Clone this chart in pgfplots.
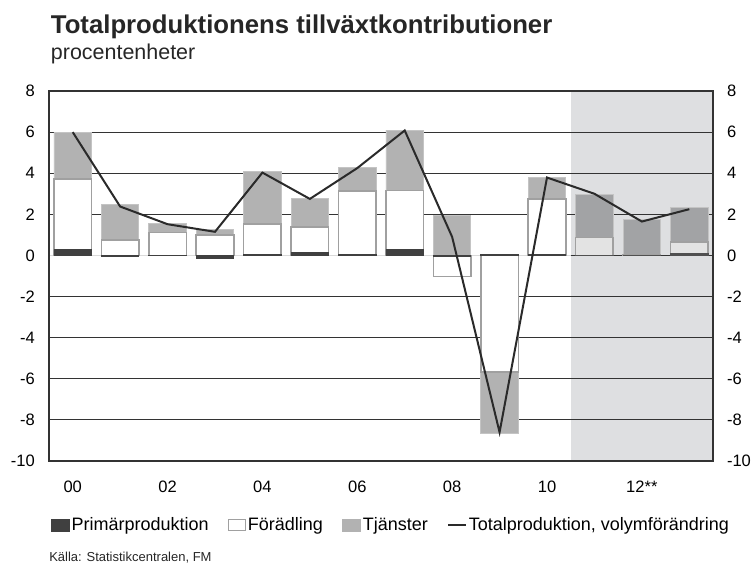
\documentclass[border=0pt]{standalone}
\usepackage{pgfplots}
\pgfplotsset{compat=1.18}
\usepackage{pgfplotstable}
\usepackage{fontspec}
\setmainfont{Liberation Sans}
\definecolor{shade}{HTML}{DEDFE1}
\definecolor{tjan}{HTML}{B2B2B2}
\definecolor{tjanF}{HTML}{A2A3A5}
\definecolor{tjanE}{HTML}{C4C4C4}
\definecolor{forb}{HTML}{A0A0A0}
\definecolor{forF}{HTML}{E3E3E3}
\definecolor{prim}{HTML}{404040}
\definecolor{primF}{HTML}{505050}
\definecolor{linec}{HTML}{2A2A2A}
\definecolor{gridc}{HTML}{333333}
\definecolor{zeroc}{HTML}{DADADA}

% cumulative bar ends (same-sign stacking): Tc = top of Tjanster, Fc = top of Foradling, P = Primarproduktion
\pgfplotstableread{
x Tc Fc P
0 6.00 3.71 0.28
1 2.50 0.76 -0.05
2 1.54 1.12 0.02
3 1.28 1.00 -0.12
4 4.08 1.54 0.03
5 2.77 1.38 0.16
6 4.29 3.14 0.03
7 6.10 3.16 0.28
8 1.93 -1.03 -0.05
9 -8.68 -5.68 0.05
10 3.81 2.76 0.03
}\hist
\pgfplotstableread{
x Tc Fc P
11 2.95 0.88 0.02
12 1.73 0.05 0.02
13 2.33 0.66 0.08
}\prog
\pgfplotstableread{
x tot
0 6.00
1 2.38
2 1.52
3 1.15
4 4.03
5 2.75
6 4.25
7 6.08
8 0.90
9 -8.60
10 3.79
11 3.00
12 1.65
13 2.25
}\total

\pgfplotsset{
  mybar/.style={ybar, bar width=0.79, bar shift=0pt, forget plot},
  myaxis/.style={
    at={(36.75pt,-68.25pt)}, anchor=north west,
    width=498pt, height=277.5pt, scale only axis,
    xmin=-0.5, xmax=13.5, ymin=-10, ymax=8,
    ytick={-10,-8,...,8},
    ticklabel style={font=\fontsize{12.4}{14}\selectfont},
    /pgf/number format/assume math mode=true,
  }
}

\begin{document}
\begin{tikzpicture}
\begin{axis}[
  myaxis,
  set layers, clip mode=individual,
  axis line style={draw=gridc, line width=1pt},
  xtick={0,2,...,12}, xticklabels={00,02,04,06,08,10,12**},
  major x tick style={draw=none},
  tick align=inside, major tick length=3pt,
  ytick style={draw=gridc, line width=0.75pt},
  ymajorgrids, grid style={draw=gridc, line width=0.75pt},
  yticklabel style={anchor=east, inner sep=0pt, xshift=-10.5pt},
  xticklabel style={anchor=north, inner sep=0pt, yshift=-15pt},
  legend style={draw=none, fill=none, at={(0.0026,-0.173)}, anchor=west,
    legend columns=4, inner sep=0pt, font=\fontsize{13.5}{15}\selectfont,
    /tikz/every even column/.append style={column sep=13pt},
    nodes={inner sep=1.5pt}},
  legend cell align=left,
]
\addplot[on layer=axis background, fill=shade, draw=none, forget plot]
  coordinates {(10.5,-10) (13.5,-10) (13.5,8) (10.5,8)} -- cycle;

% light zero line in the outcome period
\addplot[zeroc, line width=0.8pt, sharp plot, mark=none, forget plot]
  coordinates {(-0.47,0) (10.5,0)};

\addplot[mybar, fill=tjan, draw=tjanE, line width=0.6pt] table[x=x, y=Tc] {\hist};
\addplot[mybar, fill=white, draw=forb, line width=1.2pt] table[x=x, y=Fc] {\hist};
\addplot[mybar, fill=prim, draw=prim, line width=0.6pt] table[x=x, y=P] {\hist};

\addplot[mybar, fill=tjanF, draw=tjanE, line width=0.6pt] table[x=x, y=Tc] {\prog};
\addplot[mybar, fill=forF, draw=forb, line width=1.2pt] table[x=x, y=Fc] {\prog};
\addplot[mybar, fill=primF, draw=primF, line width=0.6pt] table[x=x, y=P] {\prog};

\addplot[linec, line width=1.5pt, sharp plot, mark=none, forget plot] table[x=x, y=tot] {\total};

\addlegendimage{legend image code/.code={\fill[prim] (0pt,-4.5pt) rectangle (13.5pt,4.5pt);}}
\addlegendentry{Primärproduktion}
\addlegendimage{legend image code/.code={\draw[forb, fill=white, line width=1pt] (0.5pt,-4pt) rectangle (13pt,4pt);}}
\addlegendentry{Förädling}
\addlegendimage{legend image code/.code={\fill[tjan] (0pt,-4.5pt) rectangle (13.5pt,4.5pt);}}
\addlegendentry{Tjänster}
\addlegendimage{legend image code/.code={\draw[linec, line width=1.3pt] (0pt,0pt) -- (13.5pt,0pt);}}
\addlegendentry{Totalproduktion, volymförändring}
\end{axis}

\begin{axis}[
  myaxis,
  axis x line=none, axis y line*=right,
  y axis line style={draw=none}, ytick style={draw=none},
  yticklabel style={anchor=west, inner sep=0pt, xshift=10.3pt},
]
\addplot[draw=none, forget plot] coordinates {(0,0) (1,1)};
\end{axis}

\node[anchor=base west, inner sep=0pt, font=\fontsize{19.3}{22}\selectfont\bfseries, text=black!85]
  at (38pt,-25pt) {Totalproduktionens tillväxtkontributioner};
\node[anchor=base west, inner sep=0pt, font=\fontsize{16.1}{19}\selectfont, text=black!85]
  at (38pt,-44.5pt) {procentenheter};
\node[anchor=base west, inner sep=0pt, font=\fontsize{9.75}{12}\selectfont, text=black!85]
  at (36.75pt,-421.3pt) {Källa: Statistikcentralen, FM};
\path (0,0) rectangle (564.75pt,-423.75pt);
\end{tikzpicture}
\end{document}
